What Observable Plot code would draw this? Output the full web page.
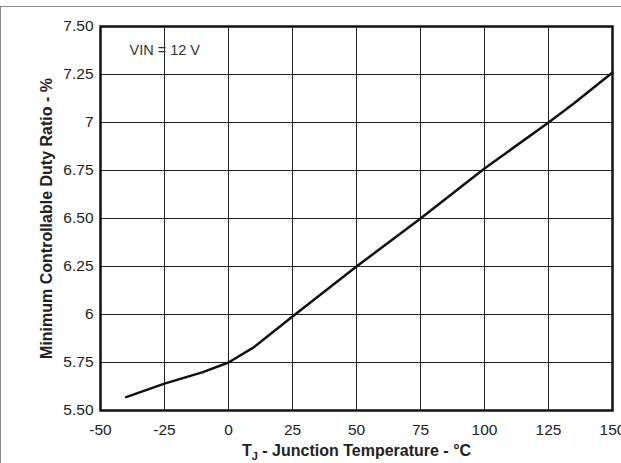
<!DOCTYPE html>
<html><head><meta charset="utf-8">
<script src="https://cdn.jsdelivr.net/npm/d3@7"></script>
<script src="https://cdn.jsdelivr.net/npm/@observablehq/plot@0.6"></script>
<style>
html,body{margin:0;padding:0;background:#fff;overflow:hidden;width:621px;height:463px}
#frame{margin-top:6px;border-top:1px solid #8a8a8a;border-left:1px solid #8a8a8a;width:620px;height:456px;overflow:visible}
#frame svg{overflow:visible}
</style></head><body><div id="frame"></div>
<script>
// Data
const temps  = [-40, -25, -10, 0, 10, 25, 50, 75, 100, 125, 135, 150];
const ratios = [5.57, 5.64, 5.70, 5.75, 5.83, 5.99, 6.25, 6.50, 6.76, 7.00, 7.10, 7.26];
const xTicks = [-50, -25, 0, 25, 50, 75, 100, 125, 150];
const xTickLabels = ["-50", "-25", "0", "25", "50", "75", "100", "125", "150"];
const yTicks = [5.5, 5.75, 6, 6.25, 6.5, 6.75, 7, 7.25, 7.5];
const yTickLabels = ["5.50", "5.75", "6", "6.25", "6.50", "6.75", "7", "7.25", "7.50"];
const annotation = ["VIN = 12 V"];
const xLabel = "TJ - Junction Temperature - °C";
const yLabel = "Minimum Controllable Duty Ratio - %";

const data = temps.map((t, i) => ({t, r: ratios[i]}));
const yFmt = v => yTickLabels[yTicks.indexOf(v)];
const xFmt = v => xTickLabels[xTicks.indexOf(v)];

const chart = Plot.plot({
  width: 620, height: 456,
  marginLeft: 99, marginRight: 9, marginTop: 19, marginBottom: 53,
  style: {fontFamily: "'Liberation Sans', Arial, sans-serif", fontSize: "15.5px", color: "#222", background: "#fff", overflow: "visible"},
  x: {domain: [-50, 150]},
  y: {domain: [5.5, 7.5]},
  marks: [
    Plot.gridX(xTicks, {stroke: "#222", strokeOpacity: 1, strokeWidth: 1}),
    Plot.gridY(yTicks, {stroke: "#222", strokeOpacity: 1, strokeWidth: 1}),
    Plot.axisX(xTicks, {tickSize: 0, tickPadding: 13, label: null, tickFormat: xFmt, fill: "#222", fontSize: 15.5}),
    Plot.axisY(yTicks, {tickSize: 0, tickPadding: 7, label: null, tickFormat: yFmt, fill: "#222", fontSize: 15.5}),
    Plot.frame({stroke: "#111", strokeWidth: 2.5}),
    Plot.line(data, {x: "t", y: "r", stroke: "#111", strokeWidth: 2.5}),
    Plot.text(annotation, {frameAnchor: "top-left", dx: 29, dy: 24, textAnchor: "start", lineAnchor: "middle", fontSize: 14.5, fill: "#333"}),
    Plot.text([xLabel], {frameAnchor: "bottom", dy: 40, textAnchor: "middle", lineAnchor: "middle", fontSize: 16, fontWeight: "bold", fill: "#222"}),
    Plot.text([yLabel], {frameAnchor: "left", dx: -54, rotate: -90, textAnchor: "middle", lineAnchor: "middle", fontSize: 16, fontWeight: "bold", fill: "#222"})
  ]
});
document.getElementById("frame").appendChild(chart);

// subscript J in x label
d3.select(chart).selectAll("text").filter(function(){ return this.textContent === xLabel; })
  .each(function(){
    const el = d3.select(this);
    el.text("");
    el.append("tspan").text("T");
    el.append("tspan").attr("dy", 4).attr("font-size", 11).text("J");
    el.append("tspan").attr("dy", -4).text(" - Junction Temperature - °C");
  });
</script>
</body></html>
